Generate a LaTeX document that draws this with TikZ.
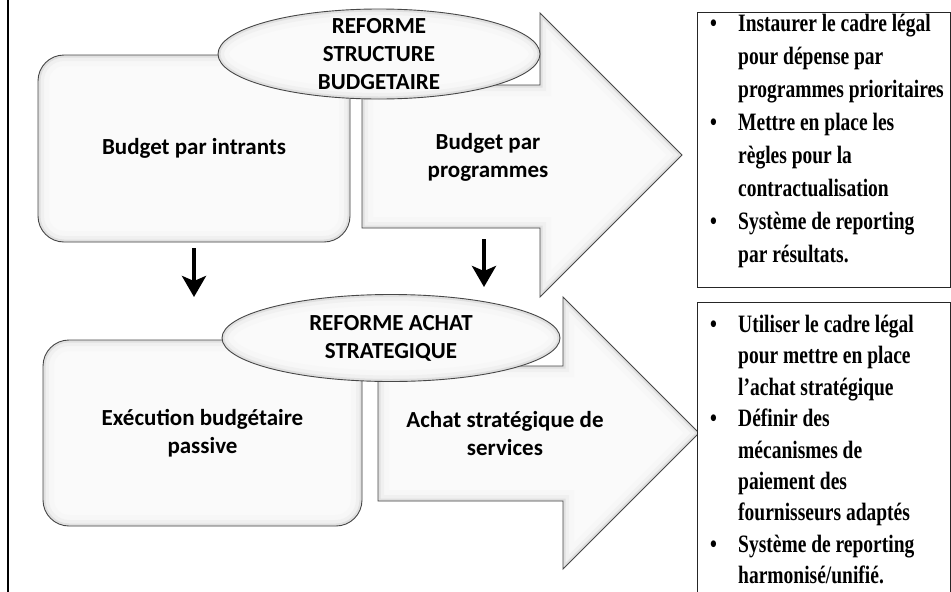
\documentclass[tikz,border=0pt]{standalone}
\usepackage{fontspec}
\setmainfont{Carlito}
\newfontfamily\rfont[FakeStretch=0.78]{Liberation Serif}
\usetikzlibrary{arrows.meta,shapes.geometric}
\newcommand\rbul{\makebox[33pt][l]{\hspace{5pt}•}}
\newcommand\rind{\hspace*{33pt}}
\begin{document}
\begin{tikzpicture}[x=1pt,y=-1pt,
  lbl/.style={font=\fontsize{23}{28}\selectfont\bfseries, align=center, inner sep=0pt},
  softfill/.style={fill=black!2},
  outl/.style={draw=black!72, line width=0.9pt},
  shadowA/.style={line width=22pt, draw=black!3},
  shadowB/.style={line width=12pt, draw=black!6},
  shadowC/.style={line width=5pt, draw=black!12},
  rbox/.style={draw=black!85, line width=1.2pt, fill=white, anchor=north west, inner sep=0pt},
  rtxt/.style={font=\rfont\bfseries\fontsize{25}{33}\selectfont, align=left, anchor=north west, inner sep=0pt},
  rtxtb/.style={font=\rfont\bfseries\fontsize{25}{31.4}\selectfont, align=left, anchor=north west, inner sep=0pt},
  downarrow/.style={line width=4.5pt, -{Stealth[length=21pt,width=24pt,inset=5pt]}},
  rrshadow/.style={path picture={
     \foreach \s in {shadowA,shadowB,shadowC}
       \draw[\s, rounded corners=26pt] (path picture bounding box.south west) rectangle (path picture bounding box.north east);}}
]
\useasboundingbox (0,0) rectangle (951,592);
\fill[white] (0,0) rectangle (951,592);
\draw[line width=2.5pt] (8,-2) -- (8,594);

% ---------- top row
\node[softfill, outl, rectangle, rounded corners=26pt, minimum width=312pt, minimum height=187pt, rrshadow] (b1) at (194,148.5) {};
\node[lbl] (t1) at (b1.center) {Budget par intrants};

\begin{scope}
\clip (362,85) -- (540,85) -- (540,13) -- (682,155) -- (540,297) -- (540,228) -- (362,228) -- cycle;
\fill[black!2] (362,13) rectangle (682,297);
\foreach \s in {shadowA,shadowB,shadowC}
  \draw[\s] (362,85) -- (540,85) -- (540,13) -- (682,155) -- (540,297) -- (540,228) -- (362,228) -- cycle;
\end{scope}
\draw[outl] (362,85) -- (540,85) -- (540,13) -- (682,155) -- (540,297) -- (540,228) -- (362,228) -- cycle;
\node[lbl] (t2) at (488,157) {Budget par\\programmes};

\begin{scope}
\clip (379,54) ellipse [x radius=161pt, y radius=45pt];
\fill[black!2] (379,54) ellipse [x radius=161pt, y radius=45pt];
\foreach \s in {shadowA,shadowB,shadowC}
  \draw[\s] (379,54) ellipse [x radius=161pt, y radius=45pt];
\end{scope}
\node[outl, ellipse, minimum width=322pt, minimum height=90pt, inner sep=0pt] (e1) at (379,54) {};
\node[lbl] (te1) at (e1.center) {REFORME\\STRUCTURE\\BUDGETAIRE};

% ---------- bottom row
\node[softfill, outl, rectangle, rounded corners=26pt, minimum width=319pt, minimum height=186pt, rrshadow] (b2) at (202.5,433) {};
\node[lbl] (t3) at (b2.center) {Exécution budgétaire\\passive};

\begin{scope}
\clip (378,366) -- (563,366) -- (563,297) -- (699,433) -- (563,569) -- (563,501) -- (378,501) -- cycle;
\fill[black!2] (378,297) rectangle (699,569);
\foreach \s in {shadowA,shadowB,shadowC}
  \draw[\s] (378,366) -- (563,366) -- (563,297) -- (699,433) -- (563,569) -- (563,501) -- (378,501) -- cycle;
\end{scope}
\draw[outl] (378,366) -- (563,366) -- (563,297) -- (699,433) -- (563,569) -- (563,501) -- (378,501) -- cycle;
\node[lbl] (t4) at (505,434) {Achat stratégique de\\services};

\begin{scope}
\clip (391,338) ellipse [x radius=169pt, y radius=43.5pt];
\fill[black!2] (391,338) ellipse [x radius=169pt, y radius=43.5pt];
\foreach \s in {shadowA,shadowB,shadowC}
  \draw[\s] (391,338) ellipse [x radius=169pt, y radius=43.5pt];
\end{scope}
\node[outl, ellipse, minimum width=338pt, minimum height=87pt, inner sep=0pt] (e2) at (391,338) {};
\node[lbl] (te2) at (e2.center) {REFORME ACHAT\\STRATEGIQUE};

% ---------- down arrows
\coordinate (d1s) at (194,248);
\coordinate (d1e) at (194,297);
\coordinate (d2s) at (484,239);
\coordinate (d2e) at (484,287);
\draw[downarrow] (d1s) -- (d1e);
\draw[downarrow] (d2s) -- (d2e);

% ---------- right boxes
\node[rbox, minimum width=253pt, minimum height=275pt] (r1) at (697,12) {};
\node[rbox, minimum width=253pt, minimum height=300pt] (r2) at (697,302) {};
\node[rtxt] (rt1) at (705,14) {\rbul Instaurer le cadre légal\\
\rind pour dépense par\\
\rind programmes prioritaires\\
\rbul Mettre en place les\\
\rind règles pour la\\
\rind contractualisation\\
\rbul Système de reporting\\
\rind par résultats.};
\node[rtxtb] (rt2) at (705,315) {\rbul Utiliser le cadre légal\\
\rind pour mettre en place\\
\rind l’achat stratégique\\
\rbul Définir des\\
\rind mécanismes de\\
\rind paiement des\\
\rind fournisseurs adaptés\\
\rbul Système de reporting\\
\rind harmonisé/unifié.};
\end{tikzpicture}
\end{document}
